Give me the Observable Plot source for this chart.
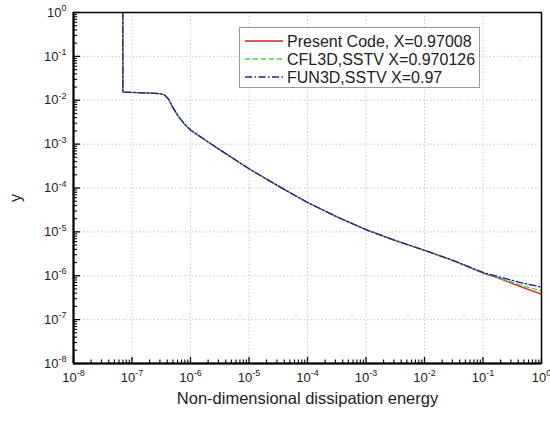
<!DOCTYPE html>
<html><head><meta charset="utf-8">
<script src="https://cdn.jsdelivr.net/npm/d3@7"></script>
<script src="https://cdn.jsdelivr.net/npm/@observablehq/plot@0.6"></script>
<style>
body{margin:0;background:#fff;font-family:"Liberation Sans",Arial,sans-serif;}
#wrap{position:relative;width:550px;height:421px;}
#legend{position:absolute;left:239px;top:27px;}
</style></head><body><div id="wrap"></div>
<script>
// ---- data ----
const xVals  = [6.97e-8, 6.97e-8, 1.6e-7, 3.0e-7, 3.6e-7, 4.2e-7, 5.0e-7, 6.3e-7, 8.0e-7, 1e-6, 2e-6, 3.2e-6, 1e-5, 3.2e-5, 1e-4, 3.2e-4, 1e-3, 3.2e-3, 1e-2, 3.2e-2, 0.1, 0.2, 0.32, 0.5, 1];
const yRed   = [1, 0.0153, 0.0148, 0.0141, 0.0132, 0.0107, 0.00676, 0.00417, 0.00282, 0.00209, 0.00112, 7.41e-4, 2.75e-4, 1.10e-4, 4.68e-5, 2.19e-5, 1.12e-5, 6.31e-6, 3.80e-6, 2.19e-6, 1.15e-6, 8.5e-7, 6.6e-7, 5.3e-7, 3.8e-7];
const yGreen = [1, 0.0153, 0.0148, 0.0141, 0.0132, 0.0107, 0.00676, 0.00417, 0.00282, 0.00209, 0.00112, 7.41e-4, 2.75e-4, 1.10e-4, 4.68e-5, 2.19e-5, 1.12e-5, 6.31e-6, 3.80e-6, 2.19e-6, 1.16e-6, 8.7e-7, 7.1e-7, 5.8e-7, 4.5e-7];
const yBlue  = [1, 0.0153, 0.0148, 0.0141, 0.0132, 0.0107, 0.00676, 0.00417, 0.00282, 0.00209, 0.00112, 7.41e-4, 2.75e-4, 1.10e-4, 4.68e-5, 2.19e-5, 1.12e-5, 6.31e-6, 3.80e-6, 2.19e-6, 1.19e-6, 9.2e-7, 7.8e-7, 6.7e-7, 5.5e-7];
const seriesNames = ["Present Code, X=0.97008", "CFL3D,SSTV X=0.970126", "FUN3D,SSTV X=0.97"];
const decadeExps = [-8, -7, -6, -5, -4, -3, -2, -1, 0];
const xLabel = "Non-dimensional dissipation energy";
const yLabel = "y";

// ---- styles ----
const colors = ["#dd1c1c", "#3ddc3d", "#1c1ca8"];
const dashes = [null, "5,3", "7,2.5,1.5,2.5"];

const W = 550, H = 421, mL = 73, mR = 9, mT = 12, mB = 58;
const innerW = W - mL - mR, innerH = H - mT - mB;

const decades = decadeExps.map(e => Math.pow(10, e));
const minors = [];
decadeExps.slice(0, -1).forEach(e => { for (let k = 2; k <= 9; k++) minors.push(k * Math.pow(10, e)); });

const ySeries = [yRed, yGreen, yBlue];
const data = ySeries.map((ys, s) => xVals.map((x, i) => ({x, y: ys[i], s: seriesNames[s]})));

const fmt = d => "10^" + Math.round(Math.log10(d));

const plot = Plot.plot({
  width: W, height: H,
  marginLeft: mL, marginRight: mR, marginTop: mT, marginBottom: mB,
  style: {fontFamily: '"Liberation Sans", Arial, sans-serif', fontSize: "13px", color: "#222", background: "white"},
  x: {type: "log", domain: [1e-8, 1]},
  y: {type: "log", domain: [1e-8, 1]},
  marks: [
    Plot.ruleX(decades, {stroke: "#c8c8c8", strokeDasharray: "1.5,2"}),
    Plot.ruleY(decades, {stroke: "#c8c8c8", strokeDasharray: "1.5,2"}),
    ...data.map((d, s) => Plot.line(d, {x: "x", y: "y", stroke: colors[s], strokeWidth: 1.3, strokeDasharray: dashes[s]})),
    Plot.tickY(decades, {y: d => d, insetRight: innerW - 7, stroke: "black", strokeWidth: 1.3}),
    Plot.tickY(minors, {y: d => d, insetRight: innerW - 4, stroke: "black", strokeWidth: 1.1}),
    Plot.tickX(decades, {x: d => d, insetTop: innerH - 6, stroke: "black", strokeWidth: 1.3}),
    Plot.tickX(minors, {x: d => d, insetTop: innerH - 3.5, stroke: "black", strokeWidth: 1.1}),
    Plot.frame({stroke: "black", strokeWidth: 1.5}),
    Plot.ruleX([1e-8], {stroke: "black", strokeWidth: 2}),
    Plot.ruleY([1e-8], {stroke: "black", strokeWidth: 2}),
    Plot.axisX(decades, {tickSize: 0, tickPadding: 9, tickFormat: fmt, label: null, fontSize: 13}),
    Plot.axisY(decades, {tickSize: 0, tickPadding: 7, tickFormat: fmt, label: null, fontSize: 13}),
    Plot.text([xLabel], {frameAnchor: "bottom", dy: 40, fontSize: 16.5, fill: "#222"}),
    Plot.text([yLabel], {frameAnchor: "left", dx: -58, dy: 14, rotate: -90, fontSize: 16, fill: "#222"})
  ]
});

// superscript exponents on tick labels
d3.select(plot).selectAll("text").each(function() {
  const t = this.textContent;
  const m = /^10\^(-?\d+)$/.exec(t);
  if (!m) return;
  this.textContent = "10";
  d3.select(this).append("tspan").attr("font-size", 9).attr("dy", -5.5).text(m[1]);
});

const wrap = document.getElementById("wrap");
wrap.appendChild(plot);

// legend inside the plot area
const lg = d3.select(wrap).append("svg").attr("id", "legend").attr("width", 241).attr("height", 61)
  .style("font-family", '"Liberation Sans", Arial, sans-serif');
lg.append("rect").attr("x", 0.5).attr("y", 0.5).attr("width", 240).attr("height", 60)
  .attr("fill", "white").attr("stroke", "#999");
seriesNames.forEach((name, i) => {
  const y = 14 + i * 18;
  lg.append("line").attr("x1", 6).attr("x2", 44).attr("y1", y).attr("y2", y)
    .attr("stroke", colors[i]).attr("stroke-width", 1.3).attr("stroke-dasharray", dashes[i]);
  lg.append("text").attr("x", 48).attr("y", y).attr("dy", "0.36em").attr("font-size", 16)
    .attr("fill", "#222").text(name);
});
</script></body></html>
